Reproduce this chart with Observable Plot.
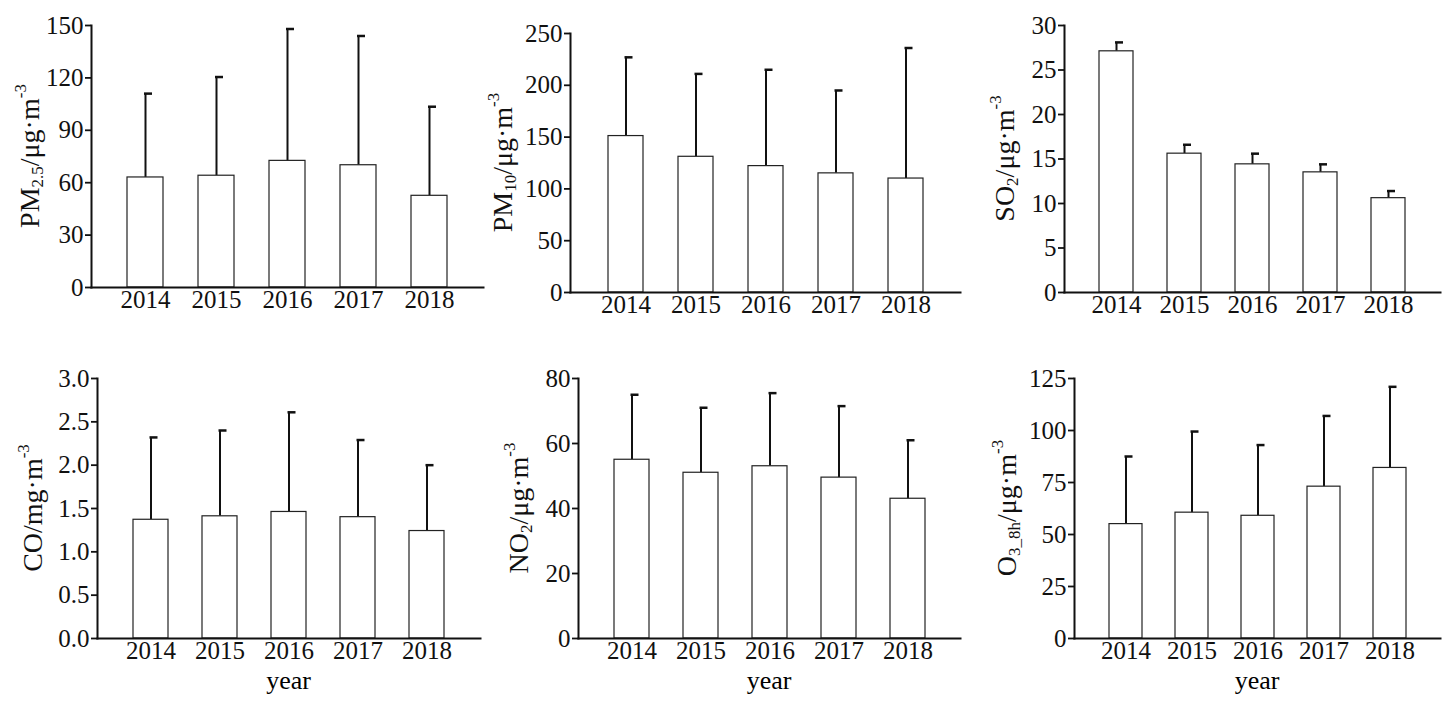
<!DOCTYPE html>
<html><head><meta charset="utf-8">
<script src="https://cdn.jsdelivr.net/npm/d3@7"></script>
<script src="https://cdn.jsdelivr.net/npm/@observablehq/plot@0.6"></script>
<style>
body{margin:0;background:#fff;font-family:"Liberation Serif",serif}
#wrap{position:relative;width:1449px;height:717px}
#wrap svg{position:absolute}
#wrap svg text{font-family:"Liberation Serif",serif;font-size:25px}
.year{position:absolute;font-size:26px;line-height:26px;transform:translateX(-50%)}
</style></head><body>
<div id="wrap"></div>
<script>
const years = [2014, 2015, 2016, 2017, 2018];
const pm25 = [63, 64, 72.5, 70, 52.5], pm25Up = [111, 120.5, 148, 144, 103.5];
const pm10 = [151, 131, 122, 115, 110], pm10Up = [227, 211, 215, 195, 236];
const so2 = [27.1, 15.6, 14.4, 13.5, 10.6], so2Up = [28.1, 16.6, 15.6, 14.4, 11.4];
const co = [1.37, 1.41, 1.46, 1.40, 1.24], coUp = [2.32, 2.40, 2.61, 2.29, 2.00];
const no2 = [55, 51, 53, 49.5, 43], no2Up = [75, 71, 75.5, 71.5, 61];
const o3 = [55, 60.5, 59, 73, 82], o3Up = [87.5, 99.5, 93, 107, 121];

// label parts: [text, "sub"|"sup"|null]
const panels = [
  {v: pm25, up: pm25Up, ticks: [0,30,60,90,120,150], fmt: d => d, label: [["PM"],["2.5","sub"],["/μg·m"],["-3","sup"]], fx: 91, fy: 25, fw: 392, fh: 262, lx: 52},
  {v: pm10, up: pm10Up, ticks: [0,50,100,150,200,250], fmt: d => d, label: [["PM"],["10","sub"],["/μg·m"],["-3","sup"]], fx: 570, fy: 33, fw: 390, fh: 259, lx: 58},
  {v: so2, up: so2Up, ticks: [0,5,10,15,20,25,30], fmt: d => d, label: [["SO"],["2","sub"],["/μg·m"],["-3","sup"]], fx: 1064, fy: 25, fw: 376, fh: 267, lx: 50},
  {v: co, up: coUp, ticks: [0,0.5,1,1.5,2,2.5,3], fmt: d3.format(".1f"), label: [["CO/mg·m"],["-3","sup"]], fx: 97, fy: 378, fw: 383, fh: 260, lx: 55, year: true},
  {v: no2, up: no2Up, ticks: [0,20,40,60,80], fmt: d => d, label: [["NO"],["2","sub"],["/μg·m"],["-3","sup"]], fx: 578, fy: 378, fw: 382, fh: 260, lx: 50, year: true},
  {v: o3, up: o3Up, ticks: [0,25,50,75,100,125], fmt: d => d, label: [["O"],["3_8h","sub"],["/μg·m"],["-3","sup"]], fx: 1074, fy: 378, fw: 366, fh: 260, lx: 58, year: true}
];

const wrap = d3.select("#wrap");
panels.forEach(p => {
  const data = years.map((y, i) => ({year: y, v: p.v[i], up: p.up[i]}));
  const mL = 95, mT = 30, mR = 8, mB = 45;
  const chart = Plot.plot({
    width: p.fw + mL + mR, height: p.fh + mT + mB,
    marginLeft: mL, marginTop: mT, marginRight: mR, marginBottom: mB,
    style: {fontFamily: "Liberation Serif", color: "#111", background: "transparent"},
    x: {domain: years, padding: 0.5, label: null},
    y: {domain: [p.ticks[0], p.ticks[p.ticks.length - 1]], label: null},
    marks: [
      Plot.axisX({tickSize: 0, tickPadding: 3, tickFormat: d => String(d)}),
      Plot.axisY({ticks: p.ticks, tickFormat: p.fmt, tickSize: 6, tickPadding: 2, strokeWidth: 1.8}),
      Plot.ruleX(data, {x: "year", y1: "v", y2: "up", strokeWidth: 2}),
      Plot.tickY(data, {x: "year", y: "up", strokeWidth: 2.5, className: "cap"}),
      Plot.barY(data, {x: "year", y: "v", fill: "white", stroke: "#222", strokeWidth: 1.2}),
      Plot.frame({anchor: "left", strokeWidth: 2}),
      Plot.frame({anchor: "bottom", strokeWidth: 2})
    ]
  });
  wrap.append(() => chart);
  d3.select(chart).style("left", (p.fx - mL) + "px").style("top", (p.fy - mT) + "px");
  // shrink error-bar caps to a short stub right of the whisker
  d3.select(chart).selectAll(".cap line").each(function() {
    const l = d3.select(this);
    const c = (+l.attr("x1") + +l.attr("x2")) / 2;
    l.attr("x1", c - 1).attr("x2", c + 7);
  });
  // rotated axis title with sub/superscripts
  const t = d3.select(chart).append("text")
    .attr("transform", `translate(${mL - p.lx},${mT + p.fh / 2}) rotate(-90)`)
    .attr("text-anchor", "middle").attr("fill", "#111").style("font-size", "28px");
  p.label.forEach(([s, k]) => {
    const ts = t.append("tspan").text(s);
    if (k === "sub") ts.style("font-size", "17px").attr("baseline-shift", "-25%");
    if (k === "sup") ts.style("font-size", "17px").attr("baseline-shift", "75%");
  });
  if (p.year) wrap.append("div").attr("class", "year").style("left", (p.fx + p.fw / 2) + "px").style("top", "668px").text("year");
});
</script>
</body></html>
